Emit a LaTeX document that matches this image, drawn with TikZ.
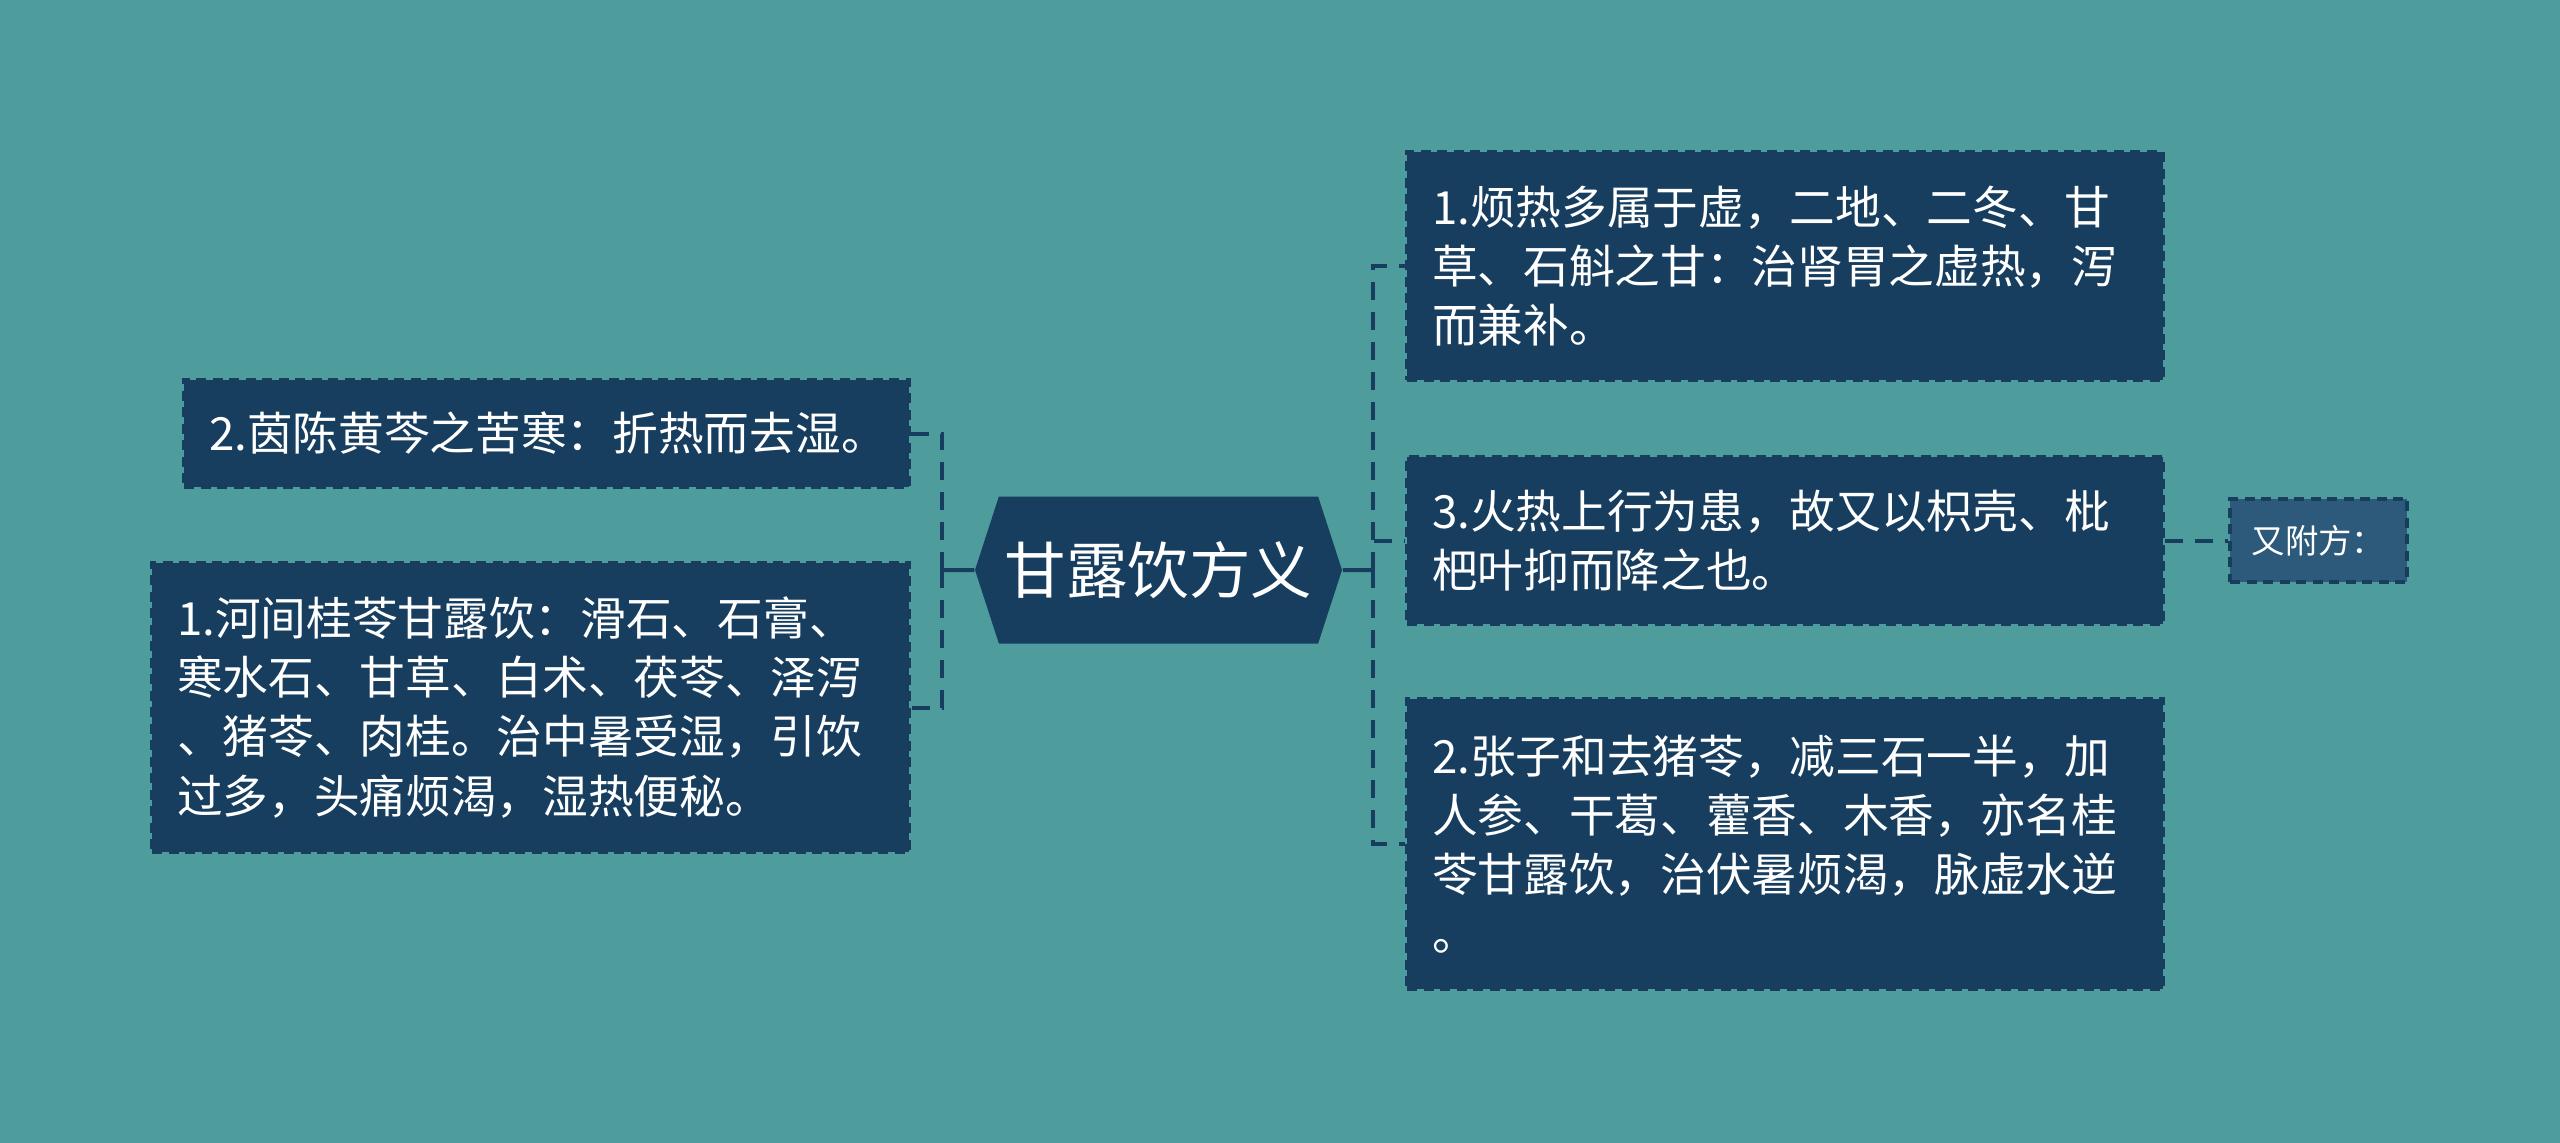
\documentclass[tikz,border=0pt]{standalone}
\usepackage{fontspec}
\setmainfont{Noto Sans CJK SC}
\usepackage{tikz}
\usetikzlibrary{positioning, shapes.symbols}
\definecolor{bgteal}{HTML}{4E9C9B}
\definecolor{navy}{HTML}{173E5E}
\definecolor{steel}{HTML}{2D5A7B}
\tikzset{
node distance=6.2cm, % distance from the hub to the boxes
hub/.style={signal, signal to=west and east, signal pointer angle=144, fill=navy, text=white, font=\fontsize{17.5}{21}\selectfont, minimum width=3.67cm, minimum height=1.47cm, inner sep=0pt},
leaf/.style={rectangle, fill=navy, draw=navy, line width=0.035cm, dash pattern=on 0.1cm off 0.065cm, text=white, align=left, font=\fontsize{13}{16.8}\selectfont, inner xsep=0.25cm, inner ysep=0pt},
extra/.style={leaf, fill=steel, font=\fontsize{9.5}{11}\selectfont, minimum width=1.77cm, minimum height=0.83cm, inner xsep=0.1cm},
link/.style={draw=navy, line width=0.04cm}, % solid line out of the hub
dashlink/.style={link, dash pattern=on 0.18cm off 0.12cm}, % dashed branches
}
\begin{document}
\begin{tikzpicture}

            \fill[bgteal] (0,0) rectangle (25.6,-11.43);

            \node[hub] (hub) at (11.585,-5.70) {甘露饮方义};

            \node[leaf, right of=hub, xshift=0.065cm, yshift=3.04cm, text width=7.06cm, minimum height=2.28cm] (r1) {1.烦热多属于虚，二地、二冬、甘\\草、石斛之甘：治肾胃之虚热，泻\\而兼补。};
            \node[leaf, right of=hub, xshift=0.065cm, yshift=0.295cm, text width=7.06cm, minimum height=1.67cm] (r3) {3.火热上行为患，故又以枳壳、枇\\杷叶抑而降之也。};
            \node[leaf, right of=hub, xshift=0.065cm, yshift=-2.74cm, text width=7.06cm, minimum height=2.90cm] (r2) {2.张子和去猪苓，减三石一半，加\\人参、干葛、藿香、木香，亦名桂\\苓甘露饮，治伏暑烦渴，脉虚水逆\\。};
            \node[extra, right of=r3, xshift=-0.865cm] (more) {又附方：};

            \node[leaf, left of=hub, xshift=0.08cm, yshift=1.365cm, text width=6.75cm, minimum height=1.07cm] (l2) {2.茵陈黄芩之苦寒：折热而去湿。};
            \node[leaf, left of=hub, xshift=-0.08cm, yshift=-1.375cm, text width=7.07cm, minimum height=2.89cm] (l1) {1.河间桂苓甘露饮：滑石、石膏、\\寒水石、甘草、白术、茯苓、泽泻\\、猪苓、肉桂。治中暑受湿，引饮\\过多，头痛烦渴，湿热便秘。};

            \coordinate (rfork) at (13.73,-5.70);
            \coordinate (lfork) at (9.42,-5.70);

            \draw[link] (hub) -- (rfork);
            \draw[link] (hub) -- (lfork);
            \draw[dashlink] (rfork) |- (r1);
            \draw[dashlink] (rfork) |- (r3);
            \draw[dashlink] (rfork) |- (r2);
            \draw[dashlink] (lfork) |- (l2);
            \draw[dashlink] (lfork) |- (l1);
            \draw[dashlink] (r3) -- (more);
        \end{tikzpicture}
\end{document}
